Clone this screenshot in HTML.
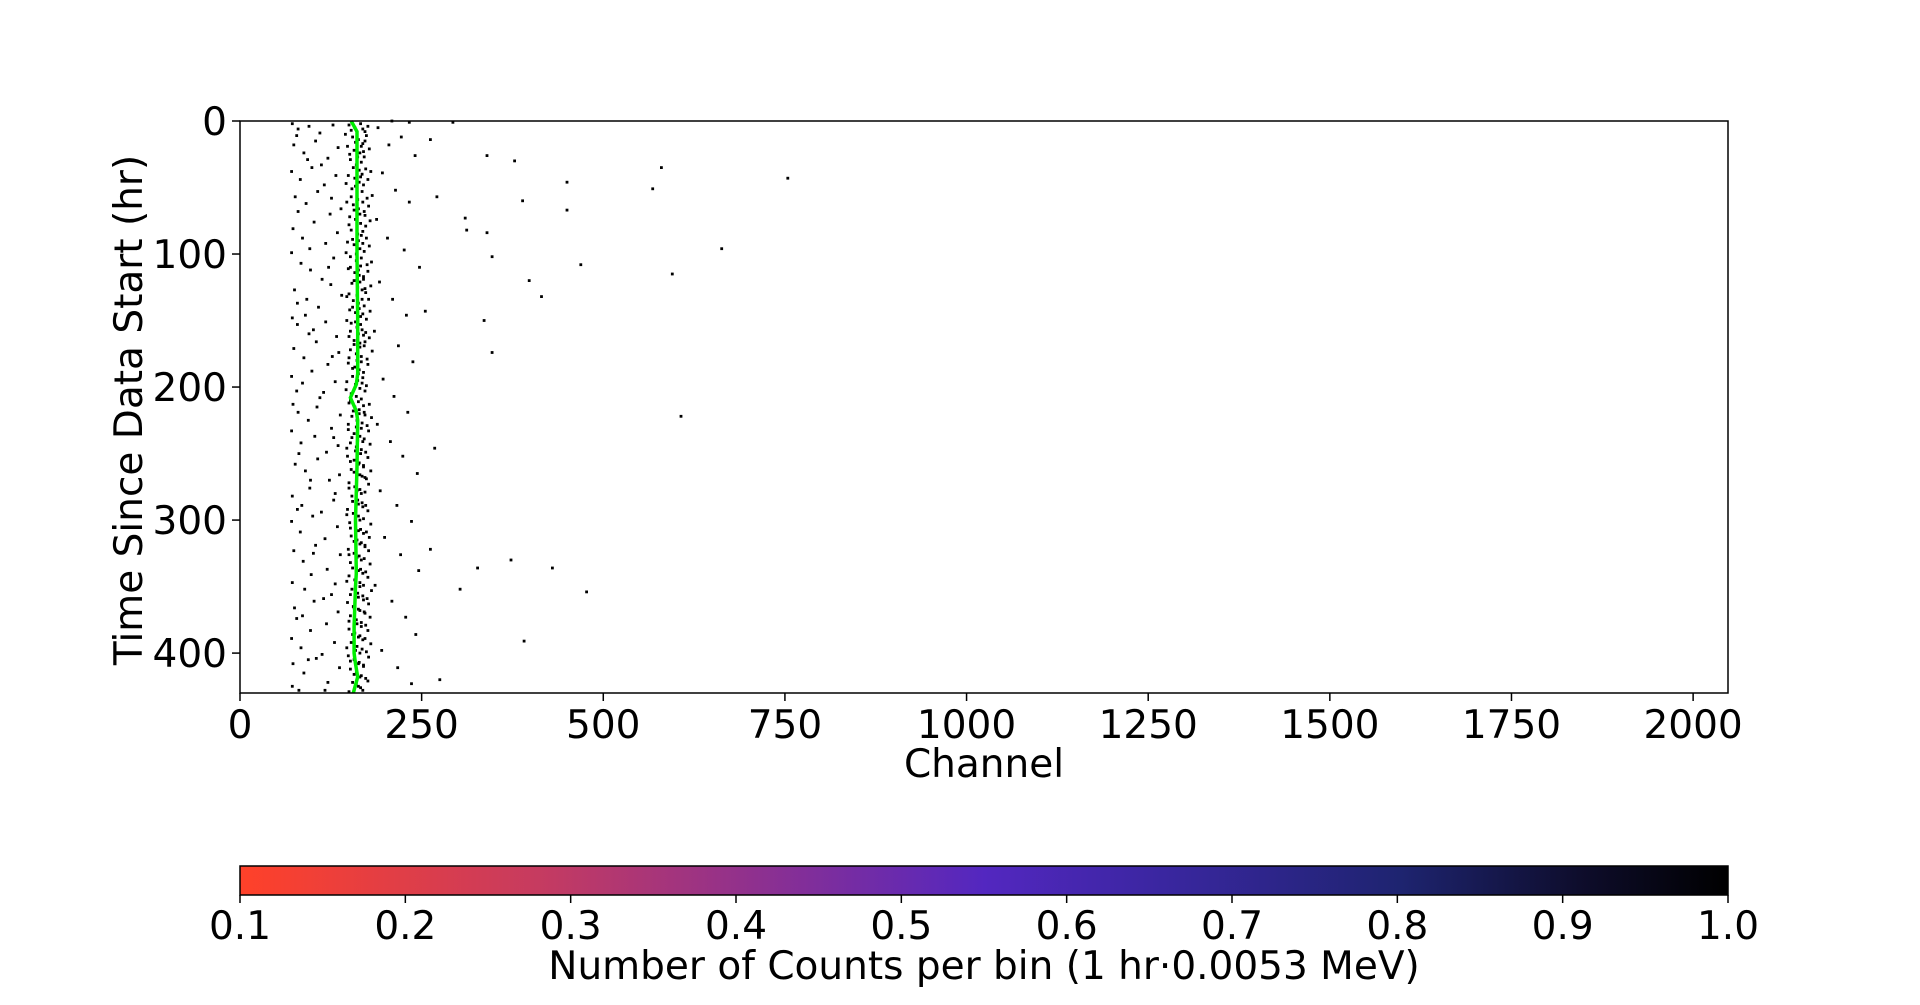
<!DOCTYPE html>
<html><head><meta charset="utf-8">
<style>
html,body{margin:0;padding:0;background:#fff;}
svg{display:block;font-family:"DejaVu Sans","Liberation Sans",sans-serif;}
</style></head>
<body>
<svg id="chart" width="1920" height="1005" viewBox="0 0 1920 1005" xmlns="http://www.w3.org/2000/svg">
  <rect x="0" y="0" width="1920" height="1005" fill="#fff"/>
  <defs>
    <linearGradient id="cmap" x1="0" x2="1" y1="0" y2="0">
      <stop offset="0" stop-color="#ff4129"/>
      <stop offset="0.2" stop-color="#c63b60"/>
      <stop offset="0.35" stop-color="#8d3090"/>
      <stop offset="0.5" stop-color="#5327c0"/>
      <stop offset="0.62" stop-color="#3a26a0"/>
      <stop offset="0.78" stop-color="#1e2470"/>
      <stop offset="0.9" stop-color="#0e0d2c"/>
      <stop offset="1" stop-color="#000"/>
    </linearGradient>
  </defs>
  <g id="plot"></g>
  <g id="cbar"></g>
</svg>
<script>
const xTicks = [0,250,500,750,1000,1250,1500,1750,2000];
const yTicks = [0,100,200,300,400];
const cbTicks = [0.1,0.2,0.3,0.4,0.5,0.6,0.7,0.8,0.9,1.0];
const pointCh = [
// dense band
150,3,158,5,166,2,172,8,176,4,155,12,163,14,169,17,174,11,148,19,157,22,165,24,171,27,178,21,152,29,160,33,167,31,173,36,180,38,149,41,158,43,164,46,170,48,176,44,154,51,161,55,168,53,175,58,182,56,147,61,156,63,163,66,171,68,177,64,151,72,159,74,166,77,173,79,179,75,153,82,162,85,169,83,174,88,148,91,157,93,165,96,171,98,178,94,152,102,160,105,167,103,175,108,181,106,149,111,158,114,164,116,170,119,176,113,154,122,162,125,168,127,173,129,180,124,147,132,156,135,163,137,171,139,177,134,151,142,159,144,166,147,174,149,179,143,153,152,161,155,168,157,173,159,150,162,157,165,165,167,171,169,178,163,152,172,160,175,167,177,175,179,182,173,149,182,158,185,164,187,170,189,176,183,155,192,162,195,168,197,174,199,146,202,153,205,160,207,167,209,172,203,150,212,158,215,164,217,171,219,178,213,154,222,161,225,168,227,175,229,181,223,149,232,157,235,165,237,171,239,177,233,152,242,160,245,167,247,173,249,179,243,148,252,157,255,164,257,170,259,176,253,153,262,161,265,168,267,174,269,180,263,150,272,158,275,165,277,172,279,177,273,154,282,162,285,168,287,173,289,148,292,156,295,163,297,170,299,176,293,151,302,159,305,166,307,174,309,180,303,153,312,161,315,167,317,172,319,178,313,149,322,157,325,164,327,171,329,177,323,152,332,160,335,166,337,173,339,179,333,150,342,158,345,165,347,170,349,176,343,154,352,162,355,169,357,175,359,181,353,148,362,156,365,163,367,171,369,177,363,152,372,160,375,167,377,173,379,179,373,150,382,158,385,165,387,172,389,176,383,153,392,161,395,168,397,174,399,180,393,149,402,157,405,164,407,170,409,177,403,152,412,160,415,167,417,173,419,155,422,163,425,169,428,176,421,
// dense band extra
153,7,161,9,169,6,145,10,159,16,167,19,172,15,151,25,162,27,170,23,156,35,164,37,168,40,146,47,159,49,166,42,153,57,162,59,169,61,157,67,165,70,172,71,150,78,161,80,167,86,155,89,163,90,169,92,146,99,160,100,166,109,152,110,163,112,170,117,157,120,165,121,172,126,150,130,161,131,168,134,155,140,164,141,169,145,147,150,159,151,166,153,152,158,163,160,170,161,157,168,165,170,172,166,150,178,161,180,167,181,155,186,163,190,169,193,147,196,159,198,165,201,152,210,163,211,170,214,156,218,164,220,172,221,149,228,160,230,167,231,154,238,162,240,169,241,147,246,159,248,166,250,152,256,163,258,170,260,157,264,165,266,172,268,150,276,161,278,167,280,155,286,163,288,169,290,147,296,159,298,165,300,152,306,163,308,170,310,157,316,165,318,172,320,150,326,161,328,167,330,155,336,163,338,169,340,147,346,159,348,165,350,152,356,163,358,170,360,157,366,165,368,172,370,150,376,161,378,167,380,155,386,163,388,169,390,147,396,159,398,165,400,152,406,163,408,170,410,157,416,165,418,160,423,166,426,150,429,
// left sparse
72,2,80,6,95,4,110,9,128,3,74,18,88,24,104,15,121,28,135,20,71,38,83,44,99,35,116,48,132,41,76,57,91,62,107,53,124,70,139,66,73,81,86,88,102,76,118,92,134,84,71,99,84,107,97,112,113,119,129,103,75,127,92,134,108,140,125,123,140,131,72,148,79,153,90,146,101,157,118,151,133,162,74,171,88,178,105,166,121,183,136,174,71,192,86,197,99,188,115,204,131,196,73,213,80,219,94,225,110,208,126,231,138,221,71,233,84,242,103,237,119,249,135,244,76,258,90,263,107,254,123,270,137,266,72,282,85,289,96,276,112,294,129,285,71,301,83,309,100,297,117,314,134,305,74,323,87,331,104,319,120,337,138,326,72,347,89,352,98,341,115,359,131,348,75,366,86,372,102,361,119,378,135,369,71,389,84,396,97,383,113,401,130,392,73,408,88,415,105,404,121,422,137,411,72,425,81,428,
78,11,93,29,112,33,126,58,80,68,96,96,122,110,79,137,95,160,127,177,78,203,106,215,129,238,81,250,97,270,131,280,79,292,101,325,126,356,78,374,94,405,117,428,
// mid sparse
190,5,205,18,222,12,241,26,196,39,214,52,233,61,188,74,203,88,226,97,247,110,192,121,210,134,229,146,185,158,218,169,238,181,197,194,212,207,231,219,189,228,207,241,224,252,244,265,193,278,216,289,236,301,199,313,221,326,246,338,186,349,209,361,228,373,242,386,195,398,217,411,236,423,262,14,271,57,255,143,268,246,262,322,275,420,
// far outliers
209,0,233,1,293,1,340,26,378,30,450,46,580,35,568,51,754,43,450,67,389,60,310,73,312,82,340,84,347,102,469,108,595,115,663,96,398,120,415,132,336,150,347,174,607,222,327,336,373,330,430,336,477,354,303,352,391,391
];
const lineHr = [0,8,30,60,100,150,190,198,208,218,225,260,300,340,350,380,400,408,418,430];
const lineCh = [153,161,161,161,161,162,162,160,152,160,162,161,159,160,159,157,157,159,162,156];

const NS = "http://www.w3.org/2000/svg";
const X0=240, X1=1728, Y0=121, Y1=693, XMAX=2048, YMAX=430;
const xs = c => X0 + c*(X1-X0)/XMAX;
const ys = h => Y0 + h*(Y1-Y0)/YMAX;
function mk(tag, attrs, parent){const e=document.createElementNS(NS,tag);for(const k in attrs)e.setAttribute(k,attrs[k]);parent.appendChild(e);return e;}
const plot=document.getElementById('plot');
const cbar=document.getElementById('cbar');

const dots=mk('g',{},plot);


for(let i=0;i<pointCh.length;i+=2){
  const r=mk('rect',{x:(xs(pointCh[i])-1.4).toFixed(1),y:(ys(pointCh[i+1])-1.4).toFixed(1),width:2.8,height:2.8,fill:'#000'},dots);
  
  
}
let d='';
for(let i=0;i<lineHr.length;i++){d+=(i?'L':'M')+xs(lineCh[i]).toFixed(1)+' '+ys(lineHr[i]).toFixed(1);}
const ln=mk('path',{d:d,fill:'none',stroke:'#00ee00','stroke-width':3.5},plot);



const frame=mk('rect',{x:X0,y:Y0,width:X1-X0,height:Y1-Y0,fill:'none',stroke:'#000','stroke-width':1.5},plot);



xTicks.forEach(t=>{
  const x=xs(t);
  const tk=mk('line',{x1:x,x2:x,y1:Y1,y2:Y1+8,stroke:'#000','stroke-width':1.5},plot);
  
  
  const tx=mk('text',{x:x,y:Y1+45,'text-anchor':'middle','font-size':39},plot);
  tx.textContent=t;
  
  
});
yTicks.forEach(t=>{
  const y=ys(t);
  const tk=mk('line',{x1:X0-8,x2:X0,y1:y,y2:y,stroke:'#000','stroke-width':1.5},plot);
  
  
  const tx=mk('text',{x:X0-13,y:y+14,'text-anchor':'end','font-size':39},plot);
  tx.textContent=t;
  
  
});
const xl=mk('text',{x:(X0+X1)/2,y:777,'text-anchor':'middle','font-size':39},plot);
xl.textContent='Channel';


const yl=mk('text',{x:0,y:0,'text-anchor':'middle','font-size':39,transform:'translate(142,410) rotate(-90)'},plot);
yl.textContent='Time Since Data Start (hr)';



// colorbar
const CB0=240, CB1=1728, CBT=866, CBB=895;
const cx = v => CB0 + (v-0.1)*(CB1-CB0)/0.9;
const cr=mk('rect',{x:CB0,y:CBT,width:CB1-CB0,height:CBB-CBT,fill:'url(#cmap)',stroke:'#000','stroke-width':1.5},cbar);


cbTicks.forEach(t=>{
  const x=cx(t);
  const tk=mk('line',{x1:x,x2:x,y1:CBB,y2:CBB+8,stroke:'#000','stroke-width':1.5},cbar);
  
  
  const tx=mk('text',{x:x,y:CBB+44,'text-anchor':'middle','font-size':39},cbar);
  tx.textContent=t.toFixed(1);
  
  
});
const cl=mk('text',{x:(CB0+CB1)/2,y:979,'text-anchor':'middle','font-size':39},cbar);
cl.textContent='Number of Counts per bin (1 hr\u00b70.0053 MeV)';


</script>
</body></html>
